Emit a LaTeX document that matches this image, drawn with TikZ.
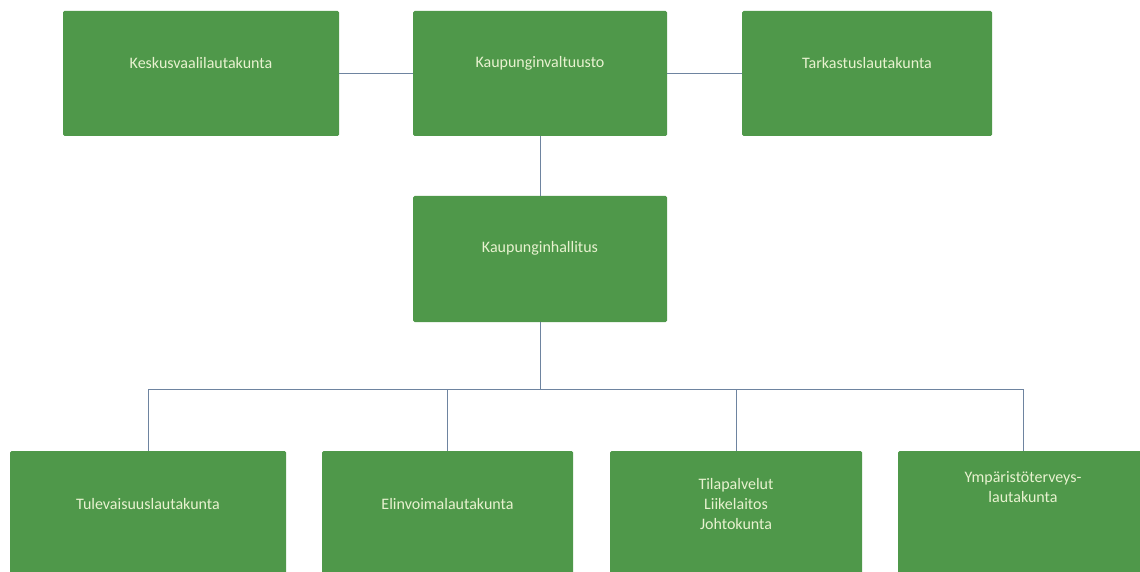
\documentclass[tikz,border=0pt]{standalone}
\usepackage{fontspec}
\setmainfont{Carlito}
\usepackage{tikz}
\usetikzlibrary{positioning}
\definecolor{boxgreen}{RGB}{79,152,74}
\definecolor{boxtext}{RGB}{232,242,208}
\definecolor{link}{RGB}{110,132,160}

\tikzset{
  unit/.style={fill=boxgreen, inner sep=0pt, minimum height=125pt, rounded corners=1.5pt},
  unittext/.style={text=boxtext, font=\fontsize{16}{20}\selectfont, align=center},
  link/.style={draw=link, line width=0.8pt}
}

\begin{document}
\begin{tikzpicture}[x=1pt, y=-1pt]

\clip (0,0) rectangle (1140,572);

% Box height and rows
\def\Rtop{73.5}
\def\Rmid{259}
\def\Rbot{513.5}
\def\Ybus{389}

%---------------------------------------
% Top row
%---------------------------------------
\node[unit, minimum width=276pt, label={[unittext, yshift=10pt]center:Keskusvaalilautakunta}]
      (kesk) at (201,\Rtop) {};
\node[unit, minimum width=254pt, label={[unittext, yshift=10pt]center:Kaupunginvaltuusto}]
      (valt) at (540,\Rtop) {};
\node[unit, minimum width=250pt, label={[unittext, yshift=10pt]center:Tarkastuslautakunta}]
      (tark) at (867,\Rtop) {};

%---------------------------------------
% Middle
%---------------------------------------
\node[unit, minimum width=254pt, minimum height=126pt,
      label={[unittext, yshift=11pt]center:Kaupunginhallitus}]
      (hall) at (540,\Rmid) {};

%---------------------------------------
% Bottom row (cut by the page)
%---------------------------------------
\node[unit, minimum width=276pt, label={[unittext, yshift=10pt]center:Tulevaisuuslautakunta}]
      (tul) at (148,\Rbot) {};
\node[unit, minimum width=251pt, label={[unittext, yshift=10pt]center:Elinvoimalautakunta}]
      (elin) at (447.5,\Rbot) {};
\node[unit, minimum width=252pt, label={[unittext, yshift=10pt]center:{Tilapalvelut\\Liikelaitos\\Johtokunta}}]
      (tila) at (736,\Rbot) {};
\node[unit, minimum width=250pt, label={[unittext, yshift=26pt]center:{Ympäristöterveys-\\lautakunta}}]
      (ymp) at (1023,\Rbot) {};

%---------------------------------------
% Connectors
%---------------------------------------
\coordinate (bus) at (540,\Ybus);

\draw[link] (kesk.east) -- (valt.west);
\draw[link] (valt.east) -- (tark.west);
\draw[link] (valt.south) -- (hall.north);
\draw[link] (hall.south) -- (bus);

\foreach \n in {tul,elin,tila,ymp}
  \draw[link] (bus) -| (\n.north);

\end{tikzpicture}
\end{document}
